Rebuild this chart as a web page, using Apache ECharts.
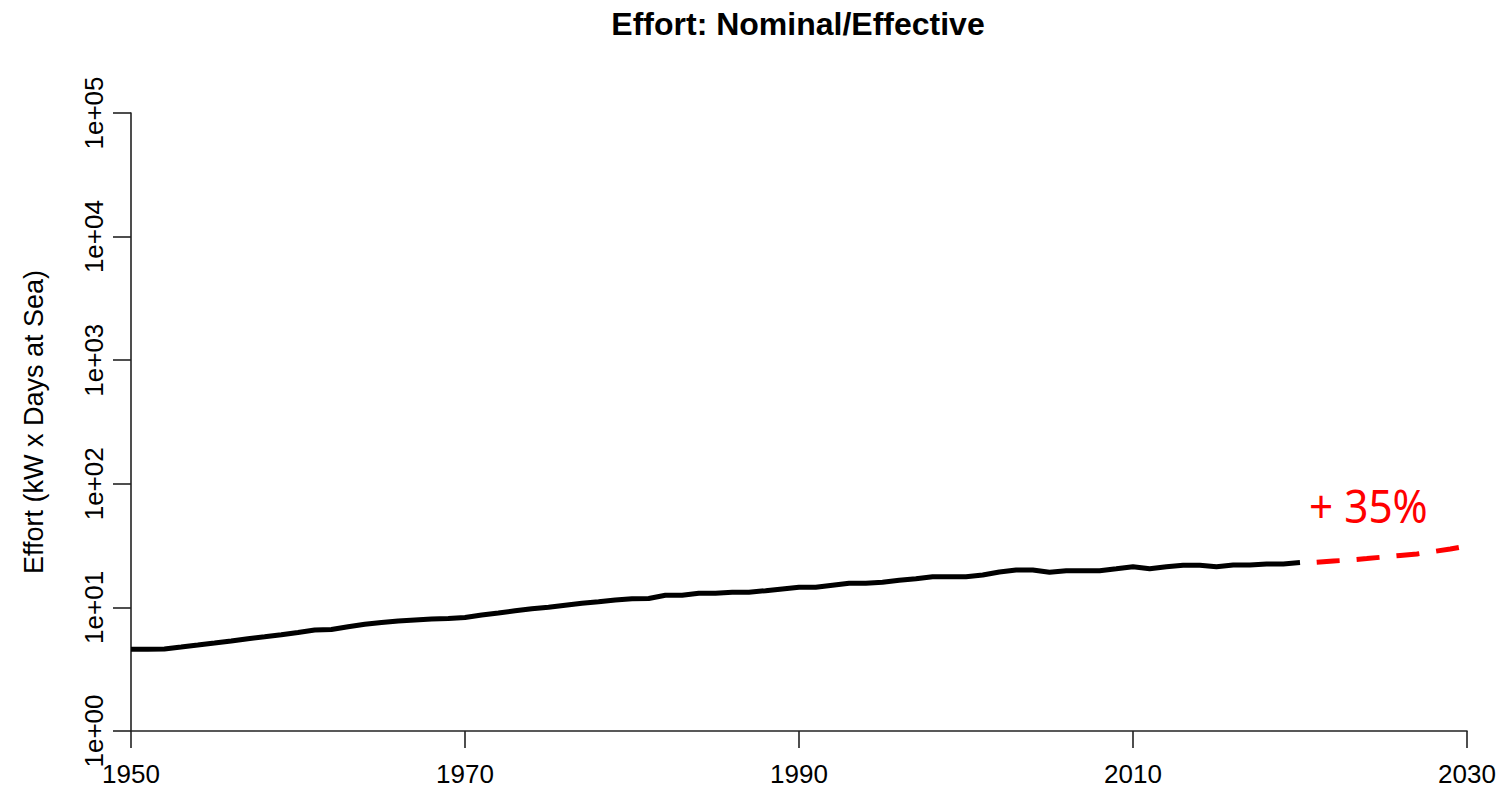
<!DOCTYPE html>
<html>
<head>
<meta charset="utf-8">
<script src="https://cdn.jsdelivr.net/npm/echarts@6/dist/echarts.min.js"></script>
<style>
html, body { margin: 0; padding: 0; background: #fff; }
#chart { width: 1503px; height: 796px; }
</style>
</head>
<body>
<div id="chart"></div>
<script>
const titleText = 'Effort: Nominal/Effective';
const yAxisName = 'Effort (kW x Days at Sea)';
const annotation = '+ 35%';

const years = [1950,1951,1952,1953,1954,1955,1956,1957,1958,1959,
  1960,1961,1962,1963,1964,1965,1966,1967,1968,1969,
  1970,1971,1972,1973,1974,1975,1976,1977,1978,1979,
  1980,1981,1982,1983,1984,1985,1986,1987,1988,1989,
  1990,1991,1992,1993,1994,1995,1996,1997,1998,1999,
  2000,2001,2002,2003,2004,2005,2006,2007,2008,2009,
  2010,2011,2012,2013,2014,2015,2016,2017,2018,2019,2020];
const effort = [4.58,4.58,4.61,4.78,4.96,5.15,5.35,5.58,5.79,6.01,
  6.27,6.56,6.63,6.98,7.30,7.55,7.76,7.91,8.06,8.12,
  8.29,8.68,9.01,9.40,9.76,10.02,10.40,10.79,11.12,11.48,
  11.76,11.80,12.53,12.53,13.01,13.01,13.25,13.25,13.65,14.09,
  14.54,14.54,15.10,15.67,15.67,15.96,16.57,17.07,17.72,17.72,
  17.72,18.29,19.34,20.07,20.07,19.23,19.81,19.81,19.81,20.56,
  21.35,20.56,21.35,21.91,21.91,21.35,22.03,22.03,22.45,22.45,23.08];

const projYears = [2021,2022,2023,2024,2025,2026,2027,2028,2029,2030];
const projEffort = [23.2,23.74,24.18,24.86,25.56,26.29,27.04,28.34,29.69,31.4];

const xTicks = [1950, 1970, 1990, 2010, 2030];
const yTickLabels = ['1e+00','1e+01','1e+02','1e+03','1e+04','1e+05'];

const chart = echarts.init(document.getElementById('chart'), null, { renderer: 'svg' });
const FONT = '"Liberation Sans", Arial, sans-serif';

chart.setOption({
  animation: false,
  backgroundColor: '#ffffff',
  grid: { left: 131, right: 36, top: 113, bottom: 65, containLabel: false },
  xAxis: {
    type: 'value',
    min: xTicks[0],
    max: xTicks[xTicks.length - 1],
    interval: 20,
    axisLine: { show: true, onZero: false, lineStyle: { color: '#222', width: 1.6 } },
    axisTick: { show: true, length: 17, lineStyle: { color: '#222', width: 1.6 } },
    axisLabel: { color: '#000', fontSize: 26, fontFamily: FONT, margin: 30,
      formatter: v => String(v) },
    splitLine: { show: false }
  },
  yAxis: {
    type: 'log',
    logBase: 10,
    min: 1,
    max: 100000,
    name: yAxisName,
    nameLocation: 'middle',
    nameRotate: 90,
    nameGap: 84,
    nameTextStyle: { color: '#000', fontSize: 27, fontFamily: FONT },
    axisLine: { show: true, onZero: false, lineStyle: { color: '#222', width: 1.6 } },
    axisTick: { show: true, length: 18, lineStyle: { color: '#222', width: 1.6 } },
    axisLabel: { color: '#000', fontSize: 26, fontFamily: FONT, rotate: 90, margin: 24,
      formatter: v => yTickLabels[Math.round(Math.log10(v))] },
    splitLine: { show: false },
    minorTick: { show: false }
  },
  graphic: [
    { type: 'text', x: 798, y: 24,
      style: { text: titleText, fill: '#000', font: 'bold 32px ' + FONT,
        textAlign: 'center', textVerticalAlign: 'middle' } },
    { type: 'text', x: 1309, y: 505, scaleX: 0.92,
      style: { text: annotation, fill: '#ff0000', font: '46px "Noto Sans", "Open Sans", sans-serif',
        textAlign: 'left', textVerticalAlign: 'middle' } }
  ],
  series: [
    { type: 'line', data: years.map((y, i) => [y, effort[i]]), showSymbol: false, symbol: 'none',
      lineStyle: { color: '#000', width: 5 }, z: 3 },
    { type: 'line', data: projYears.map((y, i) => [y, projEffort[i]]), showSymbol: false, symbol: 'none',
      lineStyle: { color: '#ff0000', width: 5, type: [23, 17] }, z: 3 }
  ]
});
</script>
</body>
</html>
